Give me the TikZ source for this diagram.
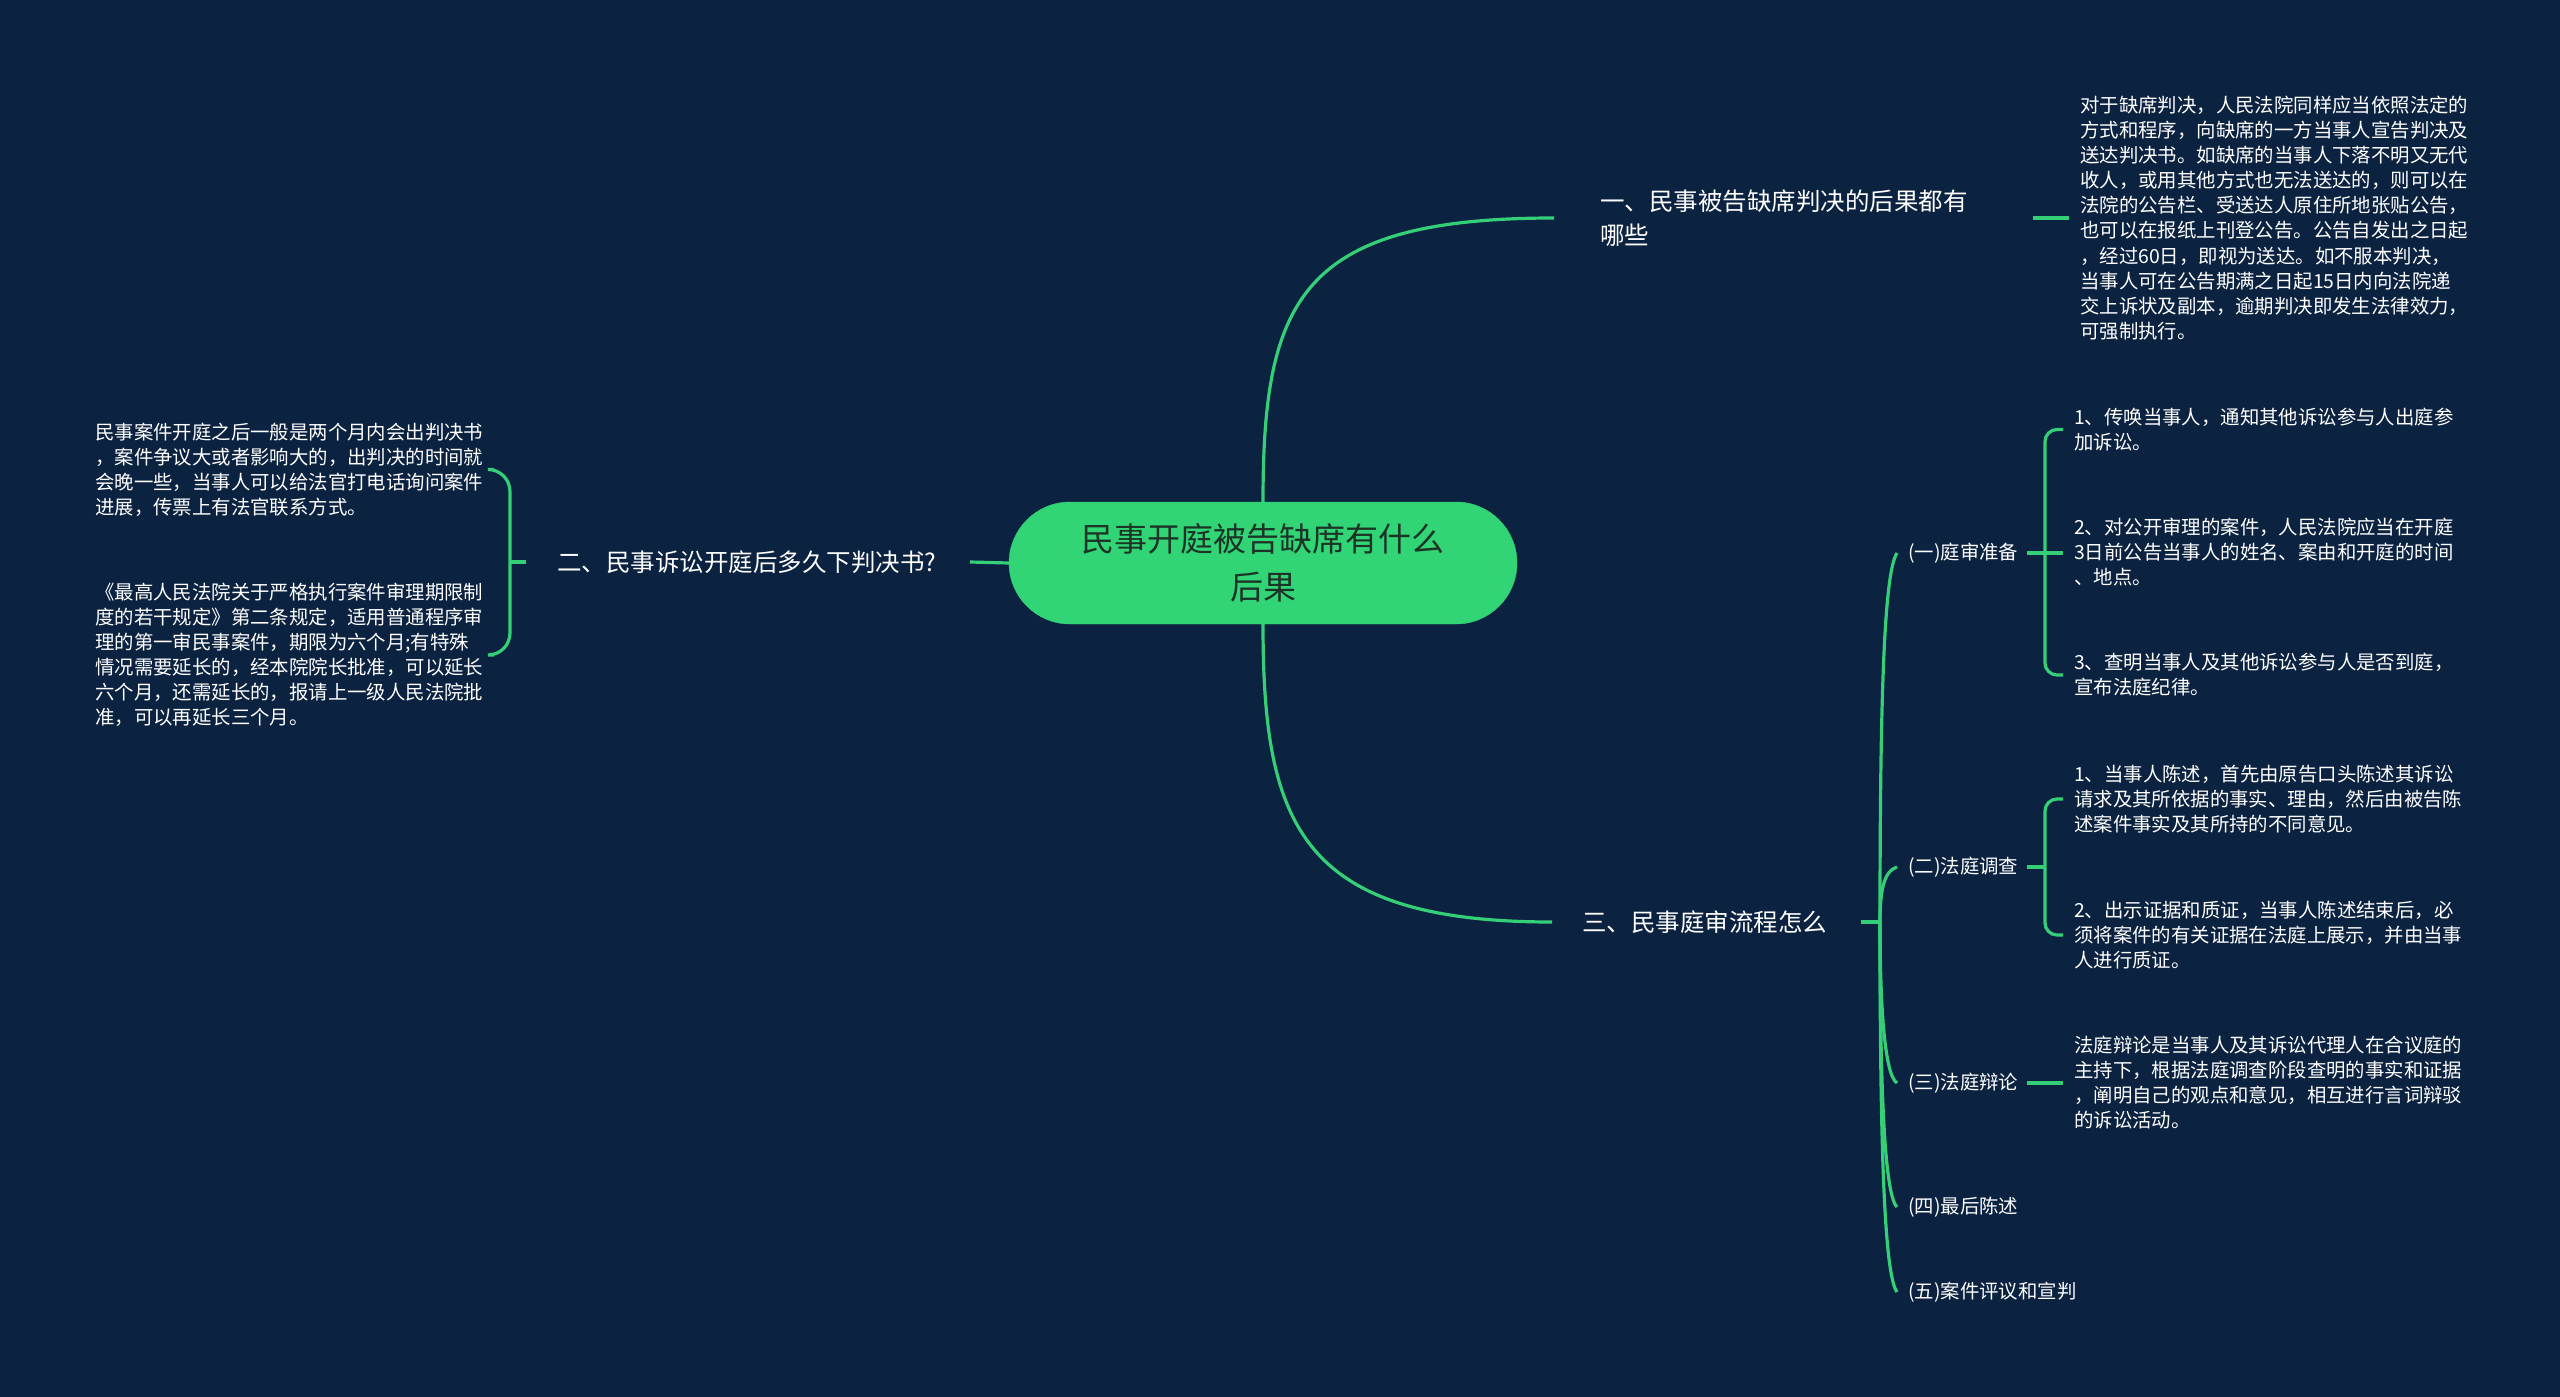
\documentclass[tikz,border=0pt]{standalone}
\usepackage{fontspec}
\setmainfont{Noto Sans CJK SC}
\usetikzlibrary{calc}
\definecolor{bg}{RGB}{11,34,64}
\definecolor{ln}{RGB}{52,207,118}
\definecolor{cfill}{RGB}{50,213,118}
\definecolor{ctext}{RGB}{28,52,38}
\begin{document}
\begin{tikzpicture}[x=1pt,y=-1pt,
  conn/.style={draw=ln,line width=3.2pt},
  rootnode/.style={fill=cfill,draw=cfill,rounded corners=61pt,minimum width=508pt,minimum height=122pt,
    font=\fontsize{33}{48}\selectfont,text=ctext,align=center,inner sep=0pt},
  lone/.style={text=white,font=\fontsize{24.5}{34}\selectfont,align=left,inner sep=0pt,anchor=west},
  ltwo/.style={text=white,font=\fontsize{19.4}{25}\selectfont,align=left,inner sep=0pt,anchor=west},
  leaf/.style={text=white,font=\fontsize{19.4}{25.1}\selectfont,align=left,inner sep=0pt,anchor=west}]
\fill[bg] (0,0) rectangle (2560,1397);
\useasboundingbox (0,0) rectangle (2560,1397);

% root
\node[rootnode] (C) at (1263,563) {民事开庭被告缺席有什么\\后果};

% level one
\node[lone] (b1) at (1600,218) {一、民事被告缺席判决的后果都有\\哪些};
\node[lone] (b2) at (557,562) {二、民事诉讼开庭后多久下判决书?};
\node[lone] (b3) at (1582,922) {三、民事庭审流程怎么};

% leaves of b1
\node[leaf] (leaf1) at (2080,218) {对于缺席判决，人民法院同样应当依照法定的\\方式和程序，向缺席的一方当事人宣告判决及\\送达判决书。如缺席的当事人下落不明又无代\\收人，或用其他方式也无法送达的，则可以在\\法院的公告栏、受送达人原住所地张贴公告，\\也可以在报纸上刊登公告。公告自发出之日起\\，经过60日，即视为送达。如不服本判决，\\当事人可在公告期满之日起15日内向法院递\\交上诉状及副本，逾期判决即发生法律效力，\\可强制执行。};

% leaves of b2
\node[leaf] (la) at (95,469.5) {民事案件开庭之后一般是两个月内会出判决书\\，案件争议大或者影响大的，出判决的时间就\\会晚一些，当事人可以给法官打电话询问案件\\进展，传票上有法官联系方式。};
\node[leaf] (lb) at (95,655) {《最高人民法院关于严格执行案件审理期限制\\度的若干规定》第二条规定，适用普通程序审\\理的第一审民事案件，期限为六个月;有特殊\\情况需要延长的，经本院院长批准，可以延长\\六个月，还需延长的，报请上一级人民法院批\\准，可以再延长三个月。};

% level two under b3
\node[ltwo] (s1) at (1908,553) {(一)庭审准备};
\node[ltwo] (s2) at (1908,867) {(二)法庭调查};
\node[ltwo] (s3) at (1908,1083) {(三)法庭辩论};
\node[ltwo] (s4) at (1908,1207) {(四)最后陈述};
\node[ltwo] (s5) at (1908,1292) {(五)案件评议和宣判};

% leaves of level two
\node[leaf] (s1a) at (2074,429.5) {1、传唤当事人，通知其他诉讼参与人出庭参\\加诉讼。};
\node[leaf] (s1b) at (2074,552) {2、对公开审理的案件，人民法院应当在开庭\\3日前公告当事人的姓名、案由和开庭的时间\\、地点。};
\node[leaf] (s1c) at (2074,675) {3、查明当事人及其他诉讼参与人是否到庭，\\宣布法庭纪律。};
\node[leaf] (s2a) at (2074,799) {1、当事人陈述，首先由原告口头陈述其诉讼\\请求及其所依据的事实、理由，然后由被告陈\\述案件事实及其所持的不同意见。};
\node[leaf] (s2b) at (2074,935) {2、出示证据和质证，当事人陈述结束后，必\\须将案件的有关证据在法庭上展示，并由当事\\人进行质证。};
\node[leaf] (s3a) at (2074,1082.5) {法庭辩论是当事人及其诉讼代理人在合议庭的\\主持下，根据法庭调查阶段查明的事实和证据\\，阐明自己的观点和意见，相互进行言词辩驳\\的诉讼活动。};

% root connectors
\draw[conn] (C.north) .. controls +(0,-202) and +(-254,0) .. ($(b1.west)+(-46,0)$);
\draw[conn] (C.south) .. controls +(0,200) and +(-252,0) .. ($(b3.west)+(-30,0)$);
\draw[conn] ($(b2.west)+(413,0)$) -- (C.west);

% b1 -> leaf
\draw[conn] ($(b1.west)+(433,0)$) -- ($(leaf1.west |- b1.west)+(-11,0)$);

% b2 brace
\draw[conn] ($(b2.west)+(-31,0)$) -- ($(b2.west)+(-47,0)$);
\draw[conn,rounded corners=22pt] ($(la.center -| b2.west)+(-63,0)$) -- ($(la.center -| b2.west)+(-47,0)$)
  -- ($(lb.center -| b2.west)+(-47,0)$) -- ($(lb.center -| b2.west)+(-63,0)$);

% b3 tree
\coordinate (J) at ($(b3.west)+(298,0)$);
\draw[conn] ($(b3.west)+(279,0)$) -- (J);
\draw[conn] (J) .. controls +(0,-222) and +(-13,19) .. ($(s1.west)+(-11,0)$);
\draw[conn] (J) .. controls +(0,-32) and +(-13,4) .. ($(s2.west)+(-11,0)$);
\draw[conn] (J) .. controls +(0,78) and +(-13,-8) .. ($(s3.west)+(-11,0)$);
\draw[conn] (J) .. controls +(0,158) and +(-13,-12) .. ($(s4.west)+(-11,0)$);
\draw[conn] (J) .. controls +(0,218) and +(-13,-17) .. ($(s5.west)+(-11,0)$);

% s1 bracket
\draw[conn] ($(s1b.west |- s1.west)+(-47,0)$) -- ($(s1b.west |- s1.west)+(-11,0)$);
\draw[conn,rounded corners=12pt] ($(s1a.west)+(-11,0)$) -- ($(s1a.west)+(-29,0)$)
  -- ($(s1c.west)+(-29,0)$) -- ($(s1c.west)+(-11,0)$);
% s2 bracket
\draw[conn] ($(s2a.west |- s2.west)+(-47,0)$) -- ($(s2a.west |- s2.west)+(-29,0)$);
\draw[conn,rounded corners=12pt] ($(s2a.west)+(-11,0)$) -- ($(s2a.west)+(-29,0)$)
  -- ($(s2b.west)+(-29,0)$) -- ($(s2b.west)+(-11,0)$);
% s3 link
\draw[conn] ($(s3a.west |- s3.west)+(-47,0)$) -- ($(s3a.west |- s3.west)+(-11,0)$);
\end{tikzpicture}
\end{document}
